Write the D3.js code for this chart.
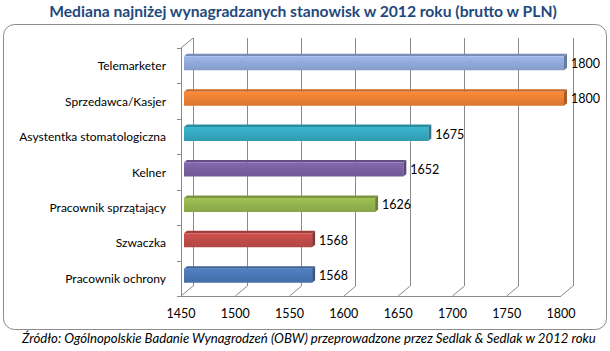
<!DOCTYPE html>
<html>
<head>
<meta charset="utf-8">
<script src="https://cdn.jsdelivr.net/npm/d3@7"></script>
<style>
  html, body { margin: 0; padding: 0; background: #fff; }
  svg { display: block; }
  text { font-family: Lato, "Open Sans", sans-serif; }
</style>
</head>
<body>
<svg id="chart" width="610" height="351"></svg>
<script>
// ---- data ----
const categories = ["Telemarketer", "Sprzedawca/Kasjer", "Asystentka stomatologiczna", "Kelner",
                    "Pracownik sprzątający", "Szwaczka", "Pracownik ochrony"];
const values = [1800, 1800, 1675, 1652, 1626, 1568, 1568];
const colors = ["#90A9D9", "#EA7F33", "#35A7BE", "#7A5FA0", "#93B24E", "#BE4B48", "#4A76B4"];
const xTicks = [1450, 1500, 1550, 1600, 1650, 1700, 1750, 1800];
const title = "Mediana najniżej wynagradzanych stanowisk w 2012 roku (brutto w PLN)";
const source = "Źródło: Ogólnopolskie Badanie Wynagrodzeń (OBW) przeprowadzone przez  Sedlak & Sedlak w 2012 roku";

const svg = d3.select("#chart");
const grid = "#8a8a8a";

// front-plane scales
const x = d3.scaleLinear().domain([1450, 1800]).range([181, 561]);
const y = d3.scaleBand().domain(categories).range([48, 296]);
const DX = 12, DY = -10;                // depth offset of back wall
const P = (v, yy, d) => [x(v) + d * DX, yy + d * DY];

// title
const t = svg.append("text").attr("x", 303).attr("y", 17).attr("text-anchor", "middle")
  .attr("font-weight", "bold").attr("fill", "#1F497D").attr("font-size", 15).text(title);
function fit(sel, w) {
  const l = sel.node().getComputedTextLength();
  sel.attr("font-size", parseFloat(sel.attr("font-size")) * w / l);
}
fit(t, 508);

// outer box
svg.append("rect").attr("x", 3.5).attr("y", 24.5).attr("width", 603).attr("height", 305)
  .attr("rx", 11).attr("fill", "#fff").attr("stroke", "#8c8c8c").attr("stroke-width", 1);

const g = svg.append("g");
const line = (a, b) => g.append("line").attr("x1", a[0]).attr("y1", a[1]).attr("x2", b[0]).attr("y2", b[1])
  .attr("stroke", grid).attr("stroke-width", 1).attr("shape-rendering", "crispEdges");

const y0 = 48, y1 = 296;
// back-wall gridlines and floor diagonals
xTicks.forEach(v => {
  line(P(v, y1, 1), P(v, y0, 1));
  g.append("line").attr("x1", x(v)).attr("y1", y1).attr("x2", x(v) + DX).attr("y2", y1 + DY)
    .attr("stroke", grid);
});
// left side wall
line(P(1450, y0, 0), P(1450, y1, 0));
g.append("line").attr("x1", x(1450)).attr("y1", y0).attr("x2", x(1450) + DX).attr("y2", y0 + DY).attr("stroke", grid);
// floor front edge
line(P(1450, y1, 0), P(1800, y1, 0));
// left ticks
y.domain().concat([null]).forEach((c, i) => {
  const yy = Math.round(y0 + i * y.step()) + 0.5;
  g.append("line").attr("x1", x(1450) - 4).attr("x2", x(1450)).attr("y1", yy).attr("y2", yy).attr("stroke", grid);
});

// x tick labels
svg.append("g").selectAll("text").data(xTicks).join("text")
  .attr("x", d => x(d)).attr("y", 318).attr("text-anchor", "middle")
  .attr("font-size", 12.5).attr("fill", "#000").text(d => d);

// category labels
const cl = svg.append("g").selectAll("text").data(categories).join("text")
  .attr("x", 166).attr("y", d => y(d) + y.bandwidth() / 2 + 4.5).attr("text-anchor", "end")
  .attr("font-size", 12).attr("fill", "#000").text(d => d);

// bars
const defs = svg.append("defs");
const d1 = 0.25, d2 = 0.5, bh = 14;
categories.forEach((c, i) => {
  const col = d3.color(colors[i]);
  const gid = "gr" + i;
  const gr = defs.append("linearGradient").attr("id", gid).attr("x1", 0).attr("y1", 0).attr("x2", 0).attr("y2", 1);
  gr.append("stop").attr("offset", "0%").attr("stop-color", col.brighter(0.25));
  gr.append("stop").attr("offset", "50%").attr("stop-color", col);
  gr.append("stop").attr("offset", "100%").attr("stop-color", col.darker(0.2));
  const cy = y(c) + y.bandwidth() / 2;
  const top = cy - bh / 2, bot = cy + bh / 2;
  const v = values[i];
  const a = P(1450, top, d1), b = P(v, top, d1), bb = P(v, bot, d1), ab = P(1450, bot, d1);
  const a2 = P(1450, top, d2), b2 = P(v, top, d2), bb2 = P(v, bot, d2);
  const poly = pts => "M" + pts.map(p => p.join(",")).join("L") + "Z";
  g.append("path").attr("d", poly([a, a2, b2, b])).attr("fill", col.darker(0.5));
  g.append("path").attr("d", poly([b, b2, bb2, bb])).attr("fill", col.darker(0.9));
  g.append("path").attr("d", poly([a, b, bb, ab])).attr("fill", `url(#${gid})`);
  svg.append("text").attr("x", b2[0] + 4).attr("y", cy - 2.5 + 4.5).attr("font-size", 12.5)
    .attr("fill", "#000").text(v);
});

// source
const s = svg.append("text").attr("x", 22).attr("y", 343).attr("font-style", "italic")
  .attr("font-size", 13).attr("fill", "#000").text(source);
fit(s, 574);
</script>
</body>
</html>
